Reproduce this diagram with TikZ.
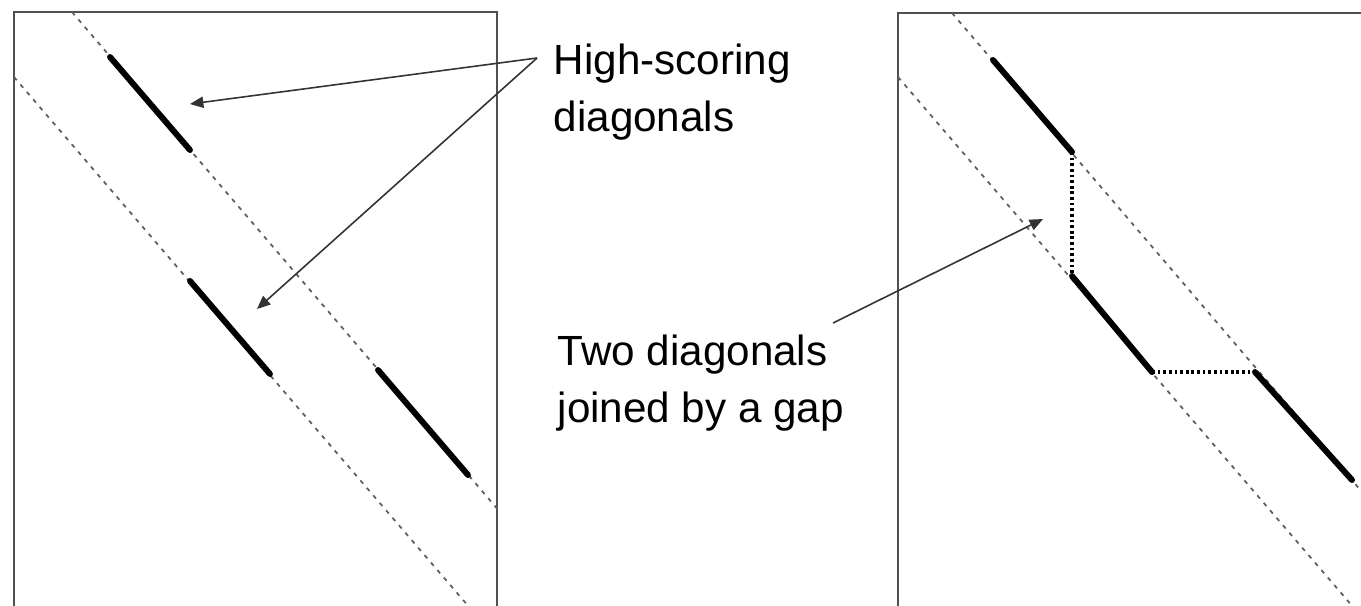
\documentclass[tikz,border=0pt]{standalone}
\usepackage{fontspec}
\setmainfont{Liberation Sans}
\usetikzlibrary{arrows.meta, positioning}
\definecolor{framegray}{RGB}{80, 80, 80}
\definecolor{bandgray}{RGB}{95, 95, 95}
\tikzset{
  panel/.style={draw=framegray, line width=0.6pt},
  bandline/.style={draw=bandgray, line width=0.5pt, dash pattern=on 1.2pt off 1.6pt},
  hitseg/.style={draw=black, line width=1.7pt, line cap=round},
  gapseg/.style={draw=black, line width=1.1pt, dash pattern=on 0.8pt off 0.8pt},
  callout/.style={draw=black!80, line width=0.45pt, -{Triangle[length=3.8pt, width=3.2pt]}},
  notetext/.style={font=\fontsize{12}{16}\selectfont, align=left, inner sep=0pt, anchor=base west}
}
\begin{document}
\begin{tikzpicture}[x=0.01cm, y=-0.01cm]
    \clip (0,0) rectangle (1361,605);
    % Left panel: dot plot with two bands
    \draw[panel] (14,620) -- (14,12) -- (497,12) -- (497,620);
    \draw[bandline] (72,12) -- (500,512);
    \draw[bandline] (14,77) -- (482,622);
    \coordinate (la1) at (110,57);  \coordinate (la2) at (190,150);
    \coordinate (lb1) at (190,281); \coordinate (lb2) at (270,374);
    \coordinate (lc1) at (378,370); \coordinate (lc2) at (468,475);
    \draw[hitseg] (la1) -- (la2);
    \draw[hitseg] (lb1) -- (lb2);
    \draw[hitseg] (lc1) -- (lc2);
    % Right panel: same bands, diagonals joined
    \draw[panel] (898,620) -- (898,13) -- (1381,13) -- (1381,620);
    \draw[bandline] (952,13) -- (1380,513);
    \draw[bandline] (898,77) -- (1366,622);
    \coordinate (ra1) at (993,60);   \coordinate (ra2) at (1072,152);
    \coordinate (rb1) at (1072,276); \coordinate (rb2) at (1152,372);
    \coordinate (rc1) at (1255,372); \coordinate (rc2) at (1352,480);
    \draw[hitseg] (ra1) -- (ra2);
    \draw[hitseg] (rb1) -- (rb2);
    \draw[hitseg] (rc1) -- (rc2);
    \draw[gapseg] (ra2) -- (rb1);
    \draw[gapseg] (rb2) -- (rc1);
    % Labels and pointers
    \node[notetext] (hs) at (553,131) {High-scoring\\diagonals};
    \node[notetext] (tdg) at (557,422) {Two diagonals\\joined by a gap};
    \coordinate (hsroot) at (537,58);
    \coordinate (hitA) at (190,104);
    \coordinate (hitB) at (257,309);
    \coordinate (tdgroot) at (833,323);
    \coordinate (gapmark) at (1043,219);
    \draw[callout] (hsroot) -- (hitA);
    \draw[callout] (hsroot) -- (hitB);
    \draw[callout] (tdgroot) -- (gapmark);
\end{tikzpicture}
\end{document}
